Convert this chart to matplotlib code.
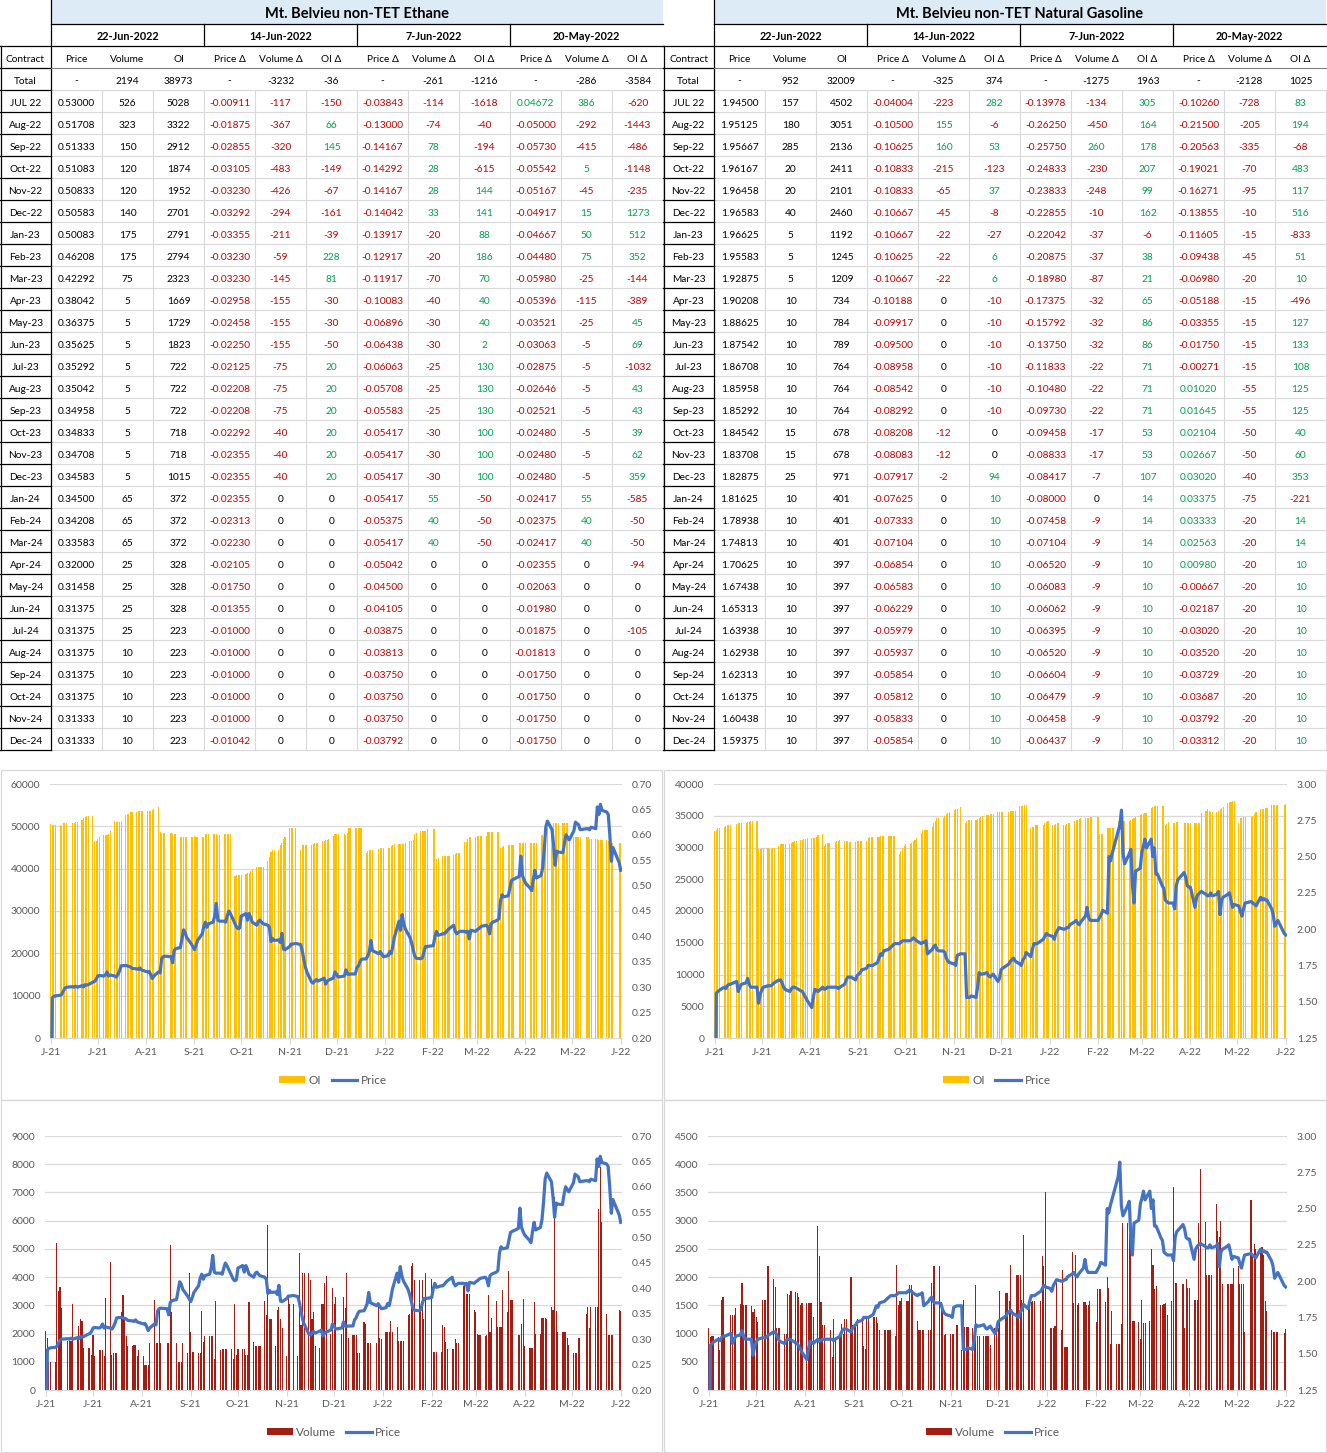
import matplotlib
matplotlib.use('Agg')
import matplotlib.pyplot as plt
import matplotlib.dates as mdates
from matplotlib.patches import Rectangle, Patch
from matplotlib.lines import Line2D
import numpy as np
import pandas as pd

plt.rcParams['font.family'] = ['Lato', 'DejaVu Sans']

W, H = 1327, 1453

# ---------------------------------------------------------------- tables
header_dates = ['22-Jun-2022', '14-Jun-2022', '7-Jun-2022', '20-May-2022']
col_headers = ['Price', 'Volume', 'OI', 'Price \u0394', 'Volume \u0394', 'OI \u0394',
               'Price \u0394', 'Volume \u0394', 'OI \u0394', 'Price \u0394', 'Volume \u0394', 'OI \u0394']
contracts = ['JUL 22', 'Aug-22', 'Sep-22', 'Oct-22', 'Nov-22', 'Dec-22',
             'Jan-23', 'Feb-23', 'Mar-23', 'Apr-23', 'May-23', 'Jun-23',
             'Jul-23', 'Aug-23', 'Sep-23', 'Oct-23', 'Nov-23', 'Dec-23',
             'Jan-24', 'Feb-24', 'Mar-24', 'Apr-24', 'May-24', 'Jun-24',
             'Jul-24', 'Aug-24', 'Sep-24', 'Oct-24', 'Nov-24', 'Dec-24']

eth_total = ['-', '2194', '38973', '-', '-3232', '-36', '-', '-261', '-1216', '-', '-286', '-3584']
eth_rows = [
    '0.53000 526 5028 -0.00911 -117 -150 -0.03843 -114 -1618 0.04672 386 -620',
    '0.51708 323 3322 -0.01875 -367 66 -0.13000 -74 -40 -0.05000 -292 -1443',
    '0.51333 150 2912 -0.02855 -320 145 -0.14167 78 -194 -0.05730 -415 -486',
    '0.51083 120 1874 -0.03105 -483 -149 -0.14292 28 -615 -0.05542 5 -1148',
    '0.50833 120 1952 -0.03230 -426 -67 -0.14167 28 144 -0.05167 -45 -235',
    '0.50583 140 2701 -0.03292 -294 -161 -0.14042 33 141 -0.04917 15 1273',
    '0.50083 175 2791 -0.03355 -211 -39 -0.13917 -20 88 -0.04667 50 512',
    '0.46208 175 2794 -0.03230 -59 228 -0.12917 -20 186 -0.04480 75 352',
    '0.42292 75 2323 -0.03230 -145 81 -0.11917 -70 70 -0.05980 -25 -144',
    '0.38042 5 1669 -0.02958 -155 -30 -0.10083 -40 40 -0.05396 -115 -389',
    '0.36375 5 1729 -0.02458 -155 -30 -0.06896 -30 40 -0.03521 -25 45',
    '0.35625 5 1823 -0.02250 -155 -50 -0.06438 -30 2 -0.03063 -5 69',
    '0.35292 5 722 -0.02125 -75 20 -0.06063 -25 130 -0.02875 -5 -1032',
    '0.35042 5 722 -0.02208 -75 20 -0.05708 -25 130 -0.02646 -5 43',
    '0.34958 5 722 -0.02208 -75 20 -0.05583 -25 130 -0.02521 -5 43',
    '0.34833 5 718 -0.02292 -40 20 -0.05417 -30 100 -0.02480 -5 39',
    '0.34708 5 718 -0.02355 -40 20 -0.05417 -30 100 -0.02480 -5 62',
    '0.34583 5 1015 -0.02355 -40 20 -0.05417 -30 100 -0.02480 -5 359',
    '0.34500 65 372 -0.02355 0 0 -0.05417 55 -50 -0.02417 55 -585',
    '0.34208 65 372 -0.02313 0 0 -0.05375 40 -50 -0.02375 40 -50',
    '0.33583 65 372 -0.02230 0 0 -0.05417 40 -50 -0.02417 40 -50',
    '0.32000 25 328 -0.02105 0 0 -0.05042 0 0 -0.02355 0 -94',
    '0.31458 25 328 -0.01750 0 0 -0.04500 0 0 -0.02063 0 0',
    '0.31375 25 328 -0.01355 0 0 -0.04105 0 0 -0.01980 0 0',
    '0.31375 25 223 -0.01000 0 0 -0.03875 0 0 -0.01875 0 -105',
    '0.31375 10 223 -0.01000 0 0 -0.03813 0 0 -0.01813 0 0',
    '0.31375 10 223 -0.01000 0 0 -0.03750 0 0 -0.01750 0 0',
    '0.31375 10 223 -0.01000 0 0 -0.03750 0 0 -0.01750 0 0',
    '0.31333 10 223 -0.01000 0 0 -0.03750 0 0 -0.01750 0 0',
    '0.31333 10 223 -0.01042 0 0 -0.03792 0 0 -0.01750 0 0',
]

ng_total = ['-', '952', '32009', '-', '-325', '374', '-', '-1275', '1963', '-', '-2128', '1025']
ng_rows = [
    '1.94500 157 4502 -0.04004 -223 282 -0.13978 -134 305 -0.10260 -728 83',
    '1.95125 180 3051 -0.10500 155 -6 -0.26250 -450 164 -0.21500 -205 194',
    '1.95667 285 2136 -0.10625 160 53 -0.25750 260 178 -0.20563 -335 -68',
    '1.96167 20 2411 -0.10833 -215 -123 -0.24833 -230 207 -0.19021 -70 483',
    '1.96458 20 2101 -0.10833 -65 37 -0.23833 -248 99 -0.16271 -95 117',
    '1.96583 40 2460 -0.10667 -45 -8 -0.22855 -10 162 -0.13855 -10 516',
    '1.96625 5 1192 -0.10667 -22 -27 -0.22042 -37 -6 -0.11605 -15 -833',
    '1.95583 5 1245 -0.10625 -22 6 -0.20875 -37 38 -0.09438 -45 51',
    '1.92875 5 1209 -0.10667 -22 6 -0.18980 -87 21 -0.06980 -20 10',
    '1.90208 10 734 -0.10188 0 -10 -0.17375 -32 65 -0.05188 -15 -496',
    '1.88625 10 784 -0.09917 0 -10 -0.15792 -32 86 -0.03355 -15 127',
    '1.87542 10 789 -0.09500 0 -10 -0.13750 -32 86 -0.01750 -15 133',
    '1.86708 10 764 -0.08958 0 -10 -0.11833 -22 71 -0.00271 -15 108',
    '1.85958 10 764 -0.08542 0 -10 -0.10480 -22 71 0.01020 -55 125',
    '1.85292 10 764 -0.08292 0 -10 -0.09730 -22 71 0.01645 -55 125',
    '1.84542 15 678 -0.08208 -12 0 -0.09458 -17 53 0.02104 -50 40',
    '1.83708 15 678 -0.08083 -12 0 -0.08833 -17 53 0.02667 -50 60',
    '1.82875 25 971 -0.07917 -2 94 -0.08417 -7 107 0.03020 -40 353',
    '1.81625 10 401 -0.07625 0 10 -0.08000 0 14 0.03375 -75 -221',
    '1.78938 10 401 -0.07333 0 10 -0.07458 -9 14 0.03333 -20 14',
    '1.74813 10 401 -0.07104 0 10 -0.07104 -9 14 0.02563 -20 14',
    '1.70625 10 397 -0.06854 0 10 -0.06520 -9 10 0.00980 -20 10',
    '1.67438 10 397 -0.06583 0 10 -0.06083 -9 10 -0.00667 -20 10',
    '1.65313 10 397 -0.06229 0 10 -0.06062 -9 10 -0.02187 -20 10',
    '1.63938 10 397 -0.05979 0 10 -0.06395 -9 10 -0.03020 -20 10',
    '1.62938 10 397 -0.05937 0 10 -0.06520 -9 10 -0.03520 -20 10',
    '1.62313 10 397 -0.05854 0 10 -0.06604 -9 10 -0.03729 -20 10',
    '1.61375 10 397 -0.05812 0 10 -0.06479 -9 10 -0.03687 -20 10',
    '1.60438 10 397 -0.05833 0 10 -0.06458 -9 10 -0.03792 -20 10',
    '1.59375 10 397 -0.05854 0 10 -0.06437 -9 10 -0.03312 -20 10',
]

# ---------------------------------------------------------------- daily series
holidays = ['2021-07-05', '2021-09-06', '2021-11-25', '2021-12-24', '2022-01-17',
            '2022-02-21', '2022-04-15', '2022-05-30', '2022-06-20']
days = pd.bdate_range('2021-06-22', '2022-06-22', freq='C', holidays=holidays)

eth_price = [
    0.0, 0.279, 0.282, 0.283, 0.284, 0.286, 0.292,  # Jun
    0.298, 0.300, 0.301, 0.300, 0.302, 0.300, 0.303, 0.301, 0.305, 0.304, 0.305,
    0.310, 0.311, 0.315, 0.322, 0.323, 0.322, 0.324, 0.330, 0.322, 0.324,  # Jul
    0.322, 0.320, 0.325, 0.332, 0.342, 0.343, 0.342, 0.341, 0.340, 0.337, 0.336,
    0.335, 0.338, 0.334, 0.333, 0.330, 0.331, 0.325, 0.317, 0.322, 0.330, 0.328,  # Aug
    0.356, 0.360, 0.361, 0.360, 0.348, 0.372, 0.376, 0.378, 0.395, 0.413, 0.408,
    0.398, 0.385, 0.380, 0.374, 0.382, 0.392, 0.405, 0.420, 0.428, 0.418,  # Sep
    0.425, 0.428, 0.440, 0.465, 0.432, 0.430, 0.430, 0.428, 0.440, 0.450, 0.445,
    0.425, 0.418, 0.415, 0.417, 0.440, 0.445, 0.432, 0.445, 0.438, 0.428,  # Oct
    0.422, 0.430, 0.432, 0.428, 0.425, 0.422, 0.418, 0.390, 0.396, 0.392, 0.393,
    0.388, 0.406, 0.375, 0.374, 0.380, 0.385, 0.385, 0.386, 0.384, 0.372,  # Nov
    0.355, 0.340, 0.330, 0.310, 0.308, 0.312, 0.315, 0.312, 0.316, 0.318, 0.306,
    0.312, 0.314, 0.318, 0.330, 0.326, 0.320, 0.322, 0.334, 0.326, 0.325, 0.326,  # Dec
    0.326, 0.338, 0.342, 0.350, 0.355, 0.356, 0.362, 0.370, 0.392, 0.372, 0.366,
    0.370, 0.365, 0.360, 0.362, 0.370, 0.366, 0.380, 0.398, 0.430,  # Jan
    0.412, 0.443, 0.425, 0.415, 0.398, 0.388, 0.375, 0.362, 0.357, 0.356, 0.358,
    0.370, 0.380, 0.380, 0.382, 0.400, 0.410, 0.402, 0.405,  # Feb
    0.405, 0.408, 0.412, 0.415, 0.422, 0.410, 0.405, 0.408, 0.410, 0.410, 0.408,
    0.410, 0.395, 0.412, 0.410, 0.413, 0.415, 0.418, 0.420, 0.422, 0.418, 0.405, 0.425,  # Mar
    0.428, 0.432, 0.435, 0.470, 0.482, 0.478, 0.480, 0.495, 0.510, 0.512, 0.518,
    0.558, 0.520, 0.512, 0.505, 0.495, 0.490, 0.512, 0.530, 0.515,  # Apr
    0.520, 0.535, 0.570, 0.615, 0.627, 0.610, 0.580, 0.540, 0.568, 0.566, 0.565,
    0.585, 0.600, 0.595, 0.590, 0.608, 0.625, 0.622, 0.620, 0.610, 0.612,  # May
    0.612, 0.610, 0.615, 0.612, 0.655, 0.640, 0.660, 0.648, 0.645, 0.640, 0.600,
    0.548, 0.575, 0.545, 0.530,  # Jun
]

eth_oi = [
    50500, 50300, 50300, 50200, 50200, 50000, 50700,
    50700, 50800, 50800, 50900, 51000, 51000, 51500, 52000, 52300, 52500, 52500,
    52500, 46500, 46600, 47000, 47500, 47900, 48000, 48000, 48200, 49000,
    51200, 51000, 51000, 51000, 51200, 52700, 53000, 53000, 53300, 53500, 53500,
    53600, 53700, 53700, 53700, 53700, 53700, 53700, 53900, 54000, 54600, 48700,
    48400, 48400, 48400, 48400, 48200, 48200, 48200, 47500, 47500, 47500, 47500,
    47500, 47500, 47500, 47600, 47400, 47400, 47500, 47500, 48200, 48200,
    48200, 48200, 48200, 48200, 48000, 48000, 48200, 48200, 48200, 48200, 48200,
    38200, 38400, 38500, 38500, 38500, 38800, 38900, 39000, 39500, 40000,
    40500, 40500, 40500, 40500, 40500, 41700, 42700, 44000, 44500, 44500, 44500,
    45500, 46000, 47000, 47500, 49500, 49500, 49500, 49500, 44300, 45500,
    45600, 45600, 45700, 45700, 45900, 46000, 46000, 46000, 46500, 46500, 46700,
    46800, 46900, 47800, 48200, 48200, 48200, 48200, 48000, 48500, 49600, 49600,
    49600, 49600, 49600, 49600, 49600, 43800, 44100, 44300, 44500, 44500, 44600,
    44800, 44800, 44800, 44800, 45000, 45300, 45600, 45800, 45800,
    45800, 45800, 45900, 46000, 46600, 46600, 46700, 48300, 48500, 48800, 48800,
    48900, 49000, 49300, 49300, 49300, 42400, 42500, 43000,
    43000, 43000, 43000, 43000, 43200, 43500, 43800, 43800, 43800, 46400, 46400,
    47000, 47500, 47500, 47500, 47600, 47700, 47700, 47700, 47700, 48700, 48700, 48700,
    48700, 48700, 48700, 45000, 45200, 45300, 45600, 45600, 45600, 45600, 46100,
    46100, 46100, 46100, 46100, 46000, 46000, 46000, 46000, 46000,
    48000, 48000, 48100, 49500, 49500, 49500, 50700, 50700, 50700, 50700, 50700,
    50700, 50700, 50700, 47500, 47500, 47500, 47500, 47500, 47400, 47400,
    47400, 47100, 47100, 47100, 47000, 46800, 46800, 46800, 46800, 46500, 46100,
    46100, 46100, 46000, 46100,
]

eth_vol = [
    2080, 1830, 1000, 1000, 1000, 5200, 3500,
    3650, 2900, 1720, 1720, 1720, 3050, 1900, 2280, 2500, 2430, 1500,
    1500, 1500, 1250, 1950, 1200, 1430, 1430, 1430, 1200, 3250,
    4550, 1230, 1300, 1300, 1300, 2750, 3380, 2600, 1900, 1570, 1570,
    1600, 1600, 1200, 1400, 1200, 880, 880, 880, 1650, 3200, 1650,
    1650, 2950, 1650, 1650, 1650, 5150, 2750, 1650, 1000, 1000, 1000,
    1650, 1300, 4150, 2050, 1350, 1350, 1300, 1300, 2800, 1700,
    1900, 1900, 1900, 1900, 1100, 3150, 1400, 1450, 1450, 1450, 1450,
    1450, 1100, 3050, 1250, 1450, 1450, 1450, 1250, 1250, 3130,
    1700, 1550, 1550, 1550, 1550, 3150, 2650, 5850, 2500, 2500, 1550,
    2850, 2950, 2500, 2200, 1200, 3250, 3050, 3050, 1200, 4850,
    2300, 4150, 4150, 4150, 3900, 2500, 2750, 1550, 1500, 3050, 3050,
    3800, 4050, 2000, 3600, 3050, 3300, 2000, 3300, 2900, 4150, 1850,
    1950, 1950, 1950, 1300, 1300, 2400, 2350, 1650, 1650, 1650, 1650,
    3000, 1850, 1800, 2050, 2050, 2050, 2450, 2050, 2250,
    1750, 1750, 1750, 1750, 2650, 2700, 4400, 4500, 3900, 3900, 2900,
    3900, 2500, 4150, 3950, 1350, 1350, 1350, 1350,
    2300, 2250, 1700, 1450, 1450, 1450, 1800, 1650, 1650, 3700, 3750,
    3400, 3400, 3400, 2850, 2750, 2000, 1950, 1950, 1900, 1950, 3350, 2050,
    2550, 3150, 2250, 2250, 2250, 3550, 2750, 4200, 3200, 3200, 1950,
    1950, 2350, 3230, 1550, 1500, 1500, 1500, 3130, 2000,
    2000, 2550, 2550, 2550, 2500, 2950, 2850, 6850, 2800, 2050, 2050,
    2050, 2050, 1850, 1600, 1300, 1300, 1300, 1850, 1850, 2700,
    2950, 2200, 2950, 2950, 2950, 6400, 7900, 5950, 2700, 1950, 1950,
    1950, 1950, 2850, 2800,
]

ng_price = [
    0.0, 1.56, 1.57, 1.58, 1.60, 1.59, 1.61,
    1.62, 1.62, 1.64, 1.57, 1.60, 1.62, 1.63, 1.66, 1.62, 1.60, 1.60,
    1.60, 1.49, 1.55, 1.58, 1.60, 1.61, 1.61, 1.61, 1.62, 1.63,
    1.65, 1.65, 1.63, 1.60, 1.585, 1.57, 1.59, 1.60, 1.60, 1.595, 1.575,
    1.57, 1.55, 1.53, 1.51, 1.46, 1.53, 1.585, 1.58, 1.57, 1.60, 1.585,
    1.59, 1.60, 1.60, 1.60, 1.60, 1.59, 1.60, 1.62, 1.65, 1.67, 1.67,
    1.67, 1.65, 1.68, 1.69, 1.70, 1.72, 1.73, 1.75, 1.75, 1.75,
    1.75, 1.77, 1.80, 1.83, 1.82, 1.85, 1.86, 1.87, 1.88, 1.89, 1.90,
    1.90, 1.91, 1.92, 1.92, 1.92, 1.92, 1.93, 1.94, 1.93, 1.92,
    1.90, 1.91, 1.91, 1.92, 1.83, 1.86, 1.88, 1.89, 1.86, 1.85, 1.85,
    1.84, 1.80, 1.78, 1.77, 1.76, 1.75, 1.82, 1.83, 1.83, 1.53,
    1.53, 1.53, 1.54, 1.53, 1.60, 1.70, 1.69, 1.69, 1.70, 1.68, 1.67,
    1.68, 1.69, 1.64, 1.66, 1.72, 1.73, 1.76, 1.78, 1.79, 1.80, 1.78,
    1.76, 1.75, 1.79, 1.80, 1.84, 1.81, 1.86, 1.90, 1.90, 1.90, 1.93,
    1.95, 1.97, 1.96, 1.95, 1.93, 1.97, 1.99, 2.01, 2.00,
    2.00, 2.01, 2.01, 2.03, 2.05, 2.06, 2.04, 2.03, 2.05, 2.09, 2.15,
    2.08, 2.06, 2.06, 2.06, 2.08, 2.10, 2.13, 2.11,
    2.50, 2.47, 2.52, 2.56, 2.68, 2.72, 2.82, 2.52, 2.45, 2.52, 2.55,
    2.30, 2.18, 2.40, 2.42, 2.53, 2.57, 2.62, 2.56, 2.62, 2.50, 2.56, 2.38,
    2.38, 2.30, 2.28, 2.20, 2.19, 2.18, 2.18, 2.14, 2.30, 2.34, 2.39,
    2.36, 2.30, 2.29, 2.29, 2.15, 2.22, 2.24, 2.25, 2.26,
    2.24, 2.23, 2.23, 2.25, 2.23, 2.24, 2.26, 2.10, 2.20, 2.22, 2.24,
    2.25, 2.20, 2.15, 2.17, 2.16, 2.12, 2.09, 2.14, 2.18, 2.19,
    2.18, 2.17, 2.16, 2.22, 2.20, 2.21, 2.20, 2.20, 2.14, 2.10, 2.02,
    2.04, 2.06, 1.97, 1.96,
]

ng_oi = [
    32600, 32800, 33000, 33000, 33300, 33400, 33600,
    33600, 33600, 33700, 33800, 33800, 33900, 33800, 34000, 34000, 34100, 34100,
    34100, 29800, 29800, 29900, 29900, 29900, 29800, 29800, 29900, 30000,
    30200, 30600, 30600, 30600, 30600, 30600, 30700, 30800, 31000, 31100, 31200,
    31200, 31300, 31400, 31500, 31500, 31500, 31500, 31700, 31900, 32100, 30300,
    30500, 30700, 30700, 30800, 31000, 31100, 31200, 31000, 31000, 31000, 30900,
    30900, 30900, 31000, 31000, 31000, 31000, 31000, 31500, 31600, 31700,
    31700, 31700, 31700, 31800, 31800, 31800, 31800, 31800, 31800, 31800, 31800,
    28900, 29400, 29900, 30200, 30500, 30500, 30700, 31000, 31200, 31500,
    32300, 32800, 32800, 32800, 32800, 33200, 33800, 34200, 34700, 34700, 34700,
    34900, 35200, 35400, 35600, 35900, 36000, 36000, 36300, 33800, 34200,
    34300, 34400, 34400, 34400, 34500, 34600, 34800, 34900, 35100, 35100, 35200,
    35200, 35200, 35600, 35600, 35600, 35600, 35600, 35700, 35700, 35800, 35800,
    36500, 36500, 36600, 36700, 36700, 33000, 33200, 33300, 33500, 33500, 33500,
    33800, 34000, 34200, 33500, 33600, 33700, 33800, 33800, 33600,
    33600, 33700, 33800, 33800, 34200, 34300, 34400, 34500, 34600, 34600, 34600,
    34700, 34800, 34800, 34800, 32100, 32100, 32100, 33000,
    33000, 33000, 33000, 33000, 34200, 34200, 34200, 34200, 34200, 34200, 34400,
    34500, 34700, 34800, 35100, 35200, 35300, 35400, 35500, 36200, 36400, 36500, 36600,
    36600, 36600, 36600, 33500, 33700, 34000, 33800, 33900, 34000, 34000, 33800,
    33800, 33800, 33800, 33800, 33800, 33800, 33800, 33800, 35500,
    35800, 36000, 35800, 35600, 35600, 35600, 35800, 36000, 36200, 36400, 37000,
    37100, 37200, 37300, 37400, 33800, 34600, 34700, 34800, 34800, 34800,
    35000, 35300, 35600, 36000, 36000, 36100, 36200, 36200, 36700, 36700, 36700,
    36700, 36700, 36700, 36900,
]

ng_vol = [
    1100, 940, 950, 950, 940, 700, 1600,
    1640, 950, 1330, 1330, 1330, 1450, 1520, 1890, 1500, 1500, 1500,
    1480, 1380, 1440, 1300, 1200, 1600, 1600, 1600, 2200, 2200,
    1960, 1820, 1100, 1100, 1100, 1000, 1000, 1700, 1680, 1760, 1730,
    1720, 1640, 1500, 1540, 1540, 1540, 1540, 1540, 1300, 2910, 2380,
    1560, 1150, 1150, 1060, 580, 1260, 900, 1000, 1170, 1000, 1250,
    1250, 2000, 1150, 1150, 1150, 1250, 1290, 780, 720, 1290,
    1290, 1290, 1290, 1290, 1180, 1060, 1060, 1060, 1060, 1060, 1060,
    960, 2220, 1500, 1570, 1630, 1570, 1570, 1860, 1860, 1780,
    1230, 1070, 1070, 1070, 1070, 1070, 1060, 1900, 2200, 2200, 2200,
    1560, 1500, 980, 1000, 1000, 1000, 1000, 1150, 700, 1600,
    1110, 1110, 1110, 1090, 1090, 1860, 960, 960, 960, 960, 960,
    960, 800, 1100, 1100, 1100, 1750, 1720, 1720, 1580, 2220, 1320,
    2030, 2030, 2030, 1590, 2740, 1530, 1550, 1560, 1580, 1580, 1580,
    2380, 2200, 3500, 1100, 1100, 1100, 1130, 1900, 1060,
    2130, 760, 760, 760, 2440, 1540, 2400, 1500, 1550, 1560, 1560,
    1500, 1500, 1580, 1200, 1790, 1790, 1790, 1560,
    2000, 1800, 820, 1400, 820, 820, 820, 1170, 2950, 2950, 2940,
    2950, 1230, 1230, 1200, 910, 1590, 1180, 1180, 1220, 2500, 2210, 1790,
    1840, 1500, 1500, 1530, 1550, 1320, 1570, 3590, 1890, 1890, 1880,
    1100, 1960, 1810, 1810, 1600, 1590, 1590, 2960, 3920,
    2980, 2040, 2040, 2040, 2040, 3300, 2820, 2710, 3000, 1870, 1870,
    1870, 1870, 1870, 2170, 2200, 1880, 1880, 1880, 1020, 3360,
    2350, 2590, 2500, 2480, 2540, 2400, 1570, 1400, 1060, 1020, 1020,
    1020, 1020, 1010, 1080,
]

RED = '#c00000'
GREEN = '#00a050'
GRID = '#d9d9d9'
LABEL = '#595959'


def delta_color(s):
    if s.startswith('-'):
        return RED
    if float(s) != 0:
        return GREEN
    return 'black'


def draw_table(bg, x0, title, total, rows):
    c0, cw = 51, 51
    left = x0 + c0
    right = left + 12 * cw
    fs = 7.3
    bg.add_patch(Rectangle((left, 0), 12 * cw, 24, facecolor='#ddebf7', edgecolor='none'))
    bg.text(left + 6 * cw, 13.5, title, ha='center', va='center', fontsize=10.5, fontweight='bold')
    for g, d in enumerate(header_dates):
        bg.text(left + cw * (3 * g + 1.5), 37, d, ha='center', va='center',
                fontsize=7.8, fontweight='bold')
    bg.text(x0 + c0 / 2, 59, 'Contract', ha='center', va='center', fontsize=fs)
    for j, h in enumerate(col_headers):
        bg.text(left + cw * (j + 0.5), 59, h, ha='center', va='center', fontsize=fs)
    bg.text(x0 + c0 / 2, 81, 'Total', ha='center', va='center', fontsize=fs)
    for j, v in enumerate(total):
        bg.text(left + cw * (j + 0.5), 81, v, ha='center', va='center', fontsize=fs)
    for i, (c, r) in enumerate(zip(contracts, rows)):
        y = 103 + 22 * i
        bg.text(x0 + c0 / 2, y, c, ha='center', va='center', fontsize=fs)
        for j, v in enumerate(r.split()):
            col = delta_color(v) if j >= 3 else 'black'
            bg.text(left + cw * (j + 0.5), y, v, ha='center', va='center', fontsize=fs, color=col)

    # light cell grid for the contract rows
    for i in range(31):
        y = 90 + 22 * i
        bg.plot([left, right], [y, y], color=GRID, lw=0.8)
    for j in range(1, 13):
        x = left + cw * j
        bg.plot([x, x], [90, 750], color=GRID, lw=0.8)
    # black borders
    bg.plot([left, left], [0, 750], color='black', lw=0.9)
    bg.plot([x0 + 0.5, x0 + 0.5], [46, 750], color='black', lw=0.9)
    for y in [68] + [90 + 22 * i for i in range(31)]:
        bg.plot([x0, left], [y, y], color='black', lw=0.9)
    bg.plot([left, right], [24, 24], color='black', lw=0.9)
    bg.plot([x0, right], [46, 46], color='black', lw=0.9)
    bg.plot([left, right], [68, 68], color='#808080', lw=0.8)
    for g in range(1, 4):
        x = left + 3 * cw * g
        bg.plot([x, x], [24, 46], color='black', lw=0.9)


def draw_chart(fig, box, bars, bar_color, bar_label, price, lmax, lstep, rmin, rmax, rstep, legend_xy):
    x0, y0, x1, y1 = box
    ax = fig.add_axes([x0 / W, 1 - y1 / H, (x1 - x0) / W, (y1 - y0) / H])
    xd = mdates.date2num(days)
    nb = min(len(xd), len(bars))
    ax.bar(xd[:nb], bars[:nb], width=0.7, color=bar_color, linewidth=0, zorder=2)
    ax.set_ylim(0, lmax)
    ax.set_yticks(np.arange(0, lmax + lstep / 2, lstep))
    ax.yaxis.grid(True, color=GRID, lw=0.9)
    ax.set_axisbelow(True)
    ax.set_facecolor('none')

    ax2 = ax.twinx()
    npx = min(len(xd), len(price))
    ax2.plot(xd[:npx], price[:npx], color='#4472c4', lw=2.3, solid_joinstyle='round', zorder=3)
    ax2.set_ylim(rmin, rmax)
    ax2.set_yticks(np.round(np.arange(rmin, rmax + rstep / 2, rstep), 2))
    ax2.yaxis.set_major_formatter(matplotlib.ticker.FormatStrFormatter('%.2f'))

    for a in (ax, ax2):
        for s in a.spines.values():
            s.set_visible(False)
    ax.spines['bottom'].set_visible(True)
    ax.spines['bottom'].set_color(GRID)

    ticks = pd.date_range('2021-06-22', '2022-06-22', freq='MS') + pd.Timedelta(days=21)
    ticks = [pd.Timestamp('2021-06-22')] + [t for t in ticks if t > pd.Timestamp('2021-06-22')]
    ax.set_xticks(mdates.date2num(ticks))
    ax.set_xticklabels([t.strftime('%b')[0] + t.strftime('-%y') for t in ticks])
    ax.set_xlim(xd[0] - 0.5, xd[-1] + 0.8)
    ax.tick_params(axis='x', length=4, color=GRID, labelsize=7.5, labelcolor=LABEL, pad=3)
    ax.tick_params(axis='y', length=0, labelsize=7.5, labelcolor=LABEL, pad=7)
    ax2.tick_params(axis='y', length=0, labelsize=7.5, labelcolor=LABEL, pad=7)

    handles = [Patch(facecolor=bar_color, edgecolor='none'), Line2D([], [], color='#4472c4', lw=2.3)]
    fig.legend(handles, [bar_label, 'Price'], loc='center',
               bbox_to_anchor=(legend_xy[0] / W, 1 - legend_xy[1] / H), ncol=2, frameon=False,
               fontsize=8.5, labelcolor=LABEL, handlelength=2.2, handleheight=0.6,
               handletextpad=0.25, columnspacing=0.9)


def main():
    fig = plt.figure(figsize=(W / 100, H / 100), dpi=100)
    bg = fig.add_axes([0, 0, 1, 1])
    bg.set_xlim(0, W)
    bg.set_ylim(H, 0)
    bg.axis('off')

    draw_table(bg, 0, 'Mt. Belvieu non-TET Ethane', eth_total, eth_rows)
    draw_table(bg, 663, 'Mt. Belvieu non-TET Natural Gasoline', ng_total, ng_rows)

    # chart panel frames
    for (px, py, pw, ph) in [(0.5, 770, 661, 330), (0.5, 1100, 661, 352),
                             (664, 770, 662, 330), (664, 1100, 662, 352)]:
        bg.add_patch(Rectangle((px, py), pw, ph, facecolor='none', edgecolor=GRID, lw=0.9))

    draw_chart(fig, (50, 784, 622, 1038), eth_oi, '#ffc000', 'OI', eth_price,
               60000, 10000, 0.20, 0.70, 0.05, (333, 1080))
    draw_chart(fig, (45, 1136, 622, 1390), eth_vol, '#a31d12', 'Volume', eth_price,
               9000, 1000, 0.20, 0.70, 0.05, (334, 1432))
    draw_chart(fig, (714, 784, 1287, 1038), ng_oi, '#ffc000', 'OI', ng_price,
               40000, 5000, 1.25, 3.00, 0.25, (997, 1080))
    draw_chart(fig, (708, 1136, 1287, 1390), ng_vol, '#a31d12', 'Volume', ng_price,
               4500, 500, 1.25, 3.00, 0.25, (993, 1432))

    fig.savefig('out.png', dpi=100)


if __name__ == '__main__':
    main()
